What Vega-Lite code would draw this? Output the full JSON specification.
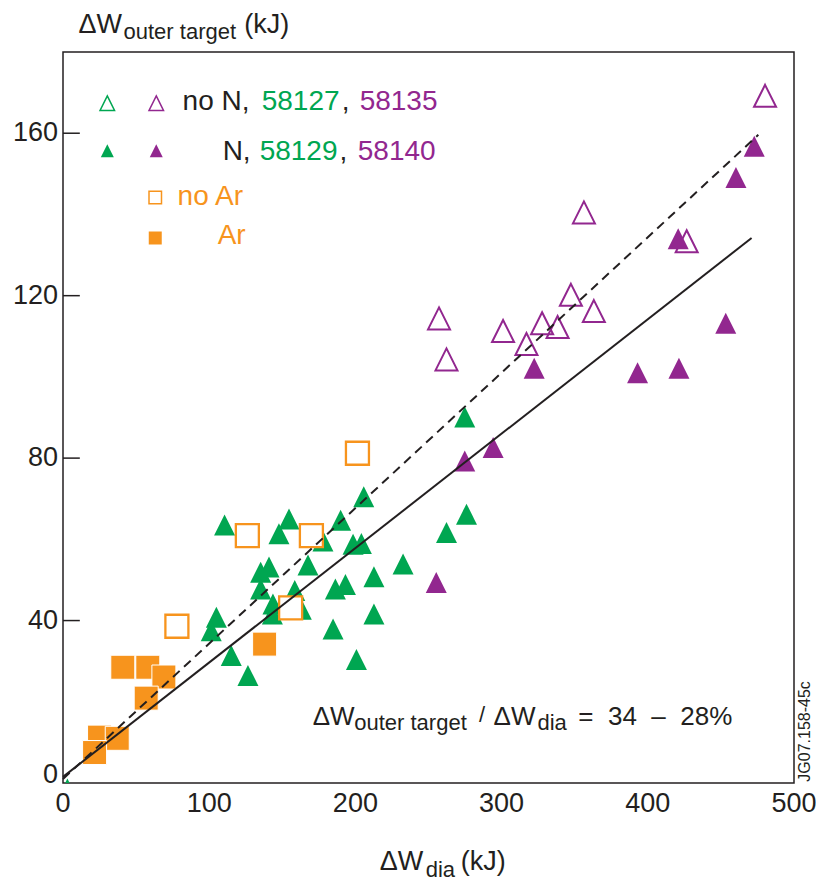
{
"$schema":"https://vega.github.io/schema/vega-lite/v6.json",
"width":731,"height":731,
"autosize":{"type":"none"},
"padding":{"left":63,"top":52,"right":22,"bottom":98},
"background":"white",
"config":{"view":{"stroke":"#231F20","strokeWidth":1.5},"font":"Liberation Sans"},
"datasets":{
"pts":[
{"s":"gN","x":205.7,"y":70.5},{"s":"gN","x":110.5,"y":63.5},{"s":"gN","x":154.6,"y":65.0},{"s":"gN","x":147.7,"y":61.4},{"s":"gN","x":189.9,"y":64.7},{"s":"gN","x":177.8,"y":59.6},{"s":"gN","x":198.4,"y":58.8},{"s":"gN","x":204.1,"y":59.0},{"s":"gN","x":167.6,"y":53.7},{"s":"gN","x":232.6,"y":53.9},{"s":"gN","x":135.2,"y":51.9},{"s":"gN","x":140.9,"y":53.2},{"s":"gN","x":212.7,"y":50.8},{"s":"gN","x":135.2,"y":47.8},{"s":"gN","x":186.3,"y":47.8},{"s":"gN","x":193.2,"y":48.9},{"s":"gN","x":158.5,"y":47.4},{"s":"gN","x":143.6,"y":44.1},{"s":"gN","x":143.2,"y":41.6},{"s":"gN","x":163.0,"y":42.8},{"s":"gN","x":212.7,"y":41.6},{"s":"gN","x":104.9,"y":40.8},{"s":"gN","x":101.4,"y":37.5},{"s":"gN","x":184.7,"y":37.9},{"s":"gN","x":115.1,"y":31.4},{"s":"gN","x":200.7,"y":30.4},{"s":"gN","x":126.5,"y":26.5},{"s":"gN","x":274.8,"y":90.1},{"s":"gN","x":276.0,"y":66.2},{"s":"gN","x":262.3,"y":61.7},{"s":"gN","x":3,"y":-1.5},
{"s":"pO","x":480.2,"y":169.2},{"s":"pO","x":356.3,"y":140.5},{"s":"pO","x":426.6,"y":133.4},{"s":"pO","x":347.4,"y":120.2},{"s":"pO","x":363.1,"y":116.2},{"s":"pO","x":257.2,"y":114.4},{"s":"pO","x":301.0,"y":111.3},{"s":"pO","x":327.7,"y":113.2},{"s":"pO","x":338.3,"y":112.3},{"s":"pO","x":317.0,"y":108.1},{"s":"pO","x":262.3,"y":104.3},
{"s":"pN","x":472.8,"y":156.8},{"s":"pN","x":460.3,"y":149.1},{"s":"pN","x":420.8,"y":134.0},{"s":"pN","x":453.3,"y":113.2},{"s":"pN","x":322.3,"y":102.1},{"s":"pN","x":393.0,"y":101.0},{"s":"pN","x":421.3,"y":102.1},{"s":"pN","x":294.2,"y":82.6},{"s":"pN","x":274.8,"y":79.3},{"s":"pN","x":255.3,"y":49.4},
{"s":"oO","x":77.9,"y":38.6},{"s":"oO","x":126.1,"y":60.9},{"s":"oO","x":169.9,"y":60.9},{"s":"oO","x":155.7,"y":43.1},{"s":"oO","x":201.4,"y":81.2},
{"s":"oA","x":40.9,"y":28.5},{"s":"oA","x":58.0,"y":28.5},{"s":"oA","x":69.0,"y":26.1},{"s":"oA","x":56.9,"y":20.9},{"s":"oA","x":25.0,"y":11.3},{"s":"oA","x":37.1,"y":11.0},{"s":"oA","x":21.6,"y":7.5},{"s":"oA","x":137.9,"y":34.2}
],
"lines":[
{"l":"dashed","x":0,"y":1},{"l":"dashed","x":475.6,"y":159.6},
{"l":"solid","x":0,"y":1.5},{"l":"solid","x":471,"y":134.2}
],
"ticks":[{"t":40},{"t":80},{"t":120},{"t":160}],
"xt":[{"v":0},{"v":100},{"v":200},{"v":300},{"v":400},{"v":500}],
"yt":[{"v":40},{"v":80},{"v":120},{"v":160}],
"y0":[{"v":0}],
"one":[{}]
},
"layer":[
{"data":{"name":"pts"},"transform":[{"filter":"datum.s==='gN'"}],
 "mark":{"type":"point","shape":"M0,-1L1,1L-1,1Z","filled":true,"fill":"#00A651","size":441,"opacity":1,"strokeWidth":0,"clip":true},
 "encoding":{"x":{"field":"x","type":"quantitative","scale":{"domain":[0,500],"nice":false},"axis":null},"y":{"field":"y","type":"quantitative","scale":{"domain":[0,180],"nice":false},"axis":null}}},
{"data":{"name":"ticks"},"mark":{"type":"rule","color":"#231F20","strokeWidth":1.5},
 "encoding":{"x":{"datum":0,"type":"quantitative","scale":{"domain":[0,500],"nice":false},"axis":null},"x2":{"datum":11.5},
 "y":{"field":"t","type":"quantitative","scale":{"domain":[0,180],"nice":false},"axis":null}}},
{"data":{"name":"xt"},"mark":{"type":"text","align":"center","baseline":"alphabetic","dy":29,"fontSize":27,"fill":"#231F20"},
 "encoding":{"x":{"field":"v","type":"quantitative","scale":{"domain":[0,500],"nice":false},"axis":null},"y":{"datum":0,"type":"quantitative","scale":{"domain":[0,180],"nice":false},"axis":null},"text":{"field":"v","type":"quantitative","format":"d"}}},
{"data":{"name":"yt"},"mark":{"type":"text","align":"right","baseline":"middle","dx":-5,"fontSize":27,"fill":"#231F20"},
 "encoding":{"x":{"datum":0,"type":"quantitative","scale":{"domain":[0,500],"nice":false},"axis":null},"y":{"field":"v","type":"quantitative","scale":{"domain":[0,180],"nice":false},"axis":null},"text":{"field":"v","type":"quantitative","format":"d"}}},
{"data":{"name":"y0"},"mark":{"type":"text","align":"right","baseline":"alphabetic","dx":-5,"fontSize":27,"fill":"#231F20"},
 "encoding":{"x":{"datum":0,"type":"quantitative","scale":{"domain":[0,500],"nice":false},"axis":null},"y":{"field":"v","type":"quantitative","scale":{"domain":[0,180],"nice":false},"axis":null},"text":{"field":"v","type":"quantitative","format":"d"}}},
{"data":{"name":"pts"},"transform":[{"filter":"datum.s==='pO'"}],
 "mark":{"type":"point","shape":"M0,-1L1,1L-1,1Z","filled":false,"stroke":"#92278F","strokeWidth":2,"size":484,"opacity":1,"clip":true},
 "encoding":{"x":{"field":"x","type":"quantitative","scale":{"domain":[0,500],"nice":false},"axis":null},"y":{"field":"y","type":"quantitative","scale":{"domain":[0,180],"nice":false},"axis":null}}},
{"data":{"name":"pts"},"transform":[{"filter":"datum.s==='pN'"}],
 "mark":{"type":"point","shape":"M0,-1L1,1L-1,1Z","filled":true,"fill":"#92278F","size":441,"opacity":1,"strokeWidth":0,"clip":true},
 "encoding":{"x":{"field":"x","type":"quantitative","scale":{"domain":[0,500],"nice":false},"axis":null},"y":{"field":"y","type":"quantitative","scale":{"domain":[0,180],"nice":false},"axis":null}}},
{"data":{"name":"pts"},"transform":[{"filter":"datum.s==='oO'"}],
 "mark":{"type":"point","shape":"square","fill":"white","stroke":"#F7941D","strokeWidth":2.3,"size":529,"opacity":1,"fillOpacity":1,"clip":true},
 "encoding":{"x":{"field":"x","type":"quantitative","scale":{"domain":[0,500],"nice":false},"axis":null},"y":{"field":"y","type":"quantitative","scale":{"domain":[0,180],"nice":false},"axis":null}}},
{"data":{"name":"pts"},"transform":[{"filter":"datum.s==='oA'"}],
 "mark":{"type":"point","shape":"square","filled":true,"fill":"#F7941D","stroke":"white","strokeWidth":1,"size":576,"opacity":1,"clip":true},
 "encoding":{"x":{"field":"x","type":"quantitative","scale":{"domain":[0,500],"nice":false},"axis":null},"y":{"field":"y","type":"quantitative","scale":{"domain":[0,180],"nice":false},"axis":null}}},
{"data":{"name":"lines"},"transform":[{"filter":"datum.l==='dashed'"}],
 "mark":{"type":"line","color":"#231F20","strokeWidth":2,"strokeDash":[9,6]},
 "encoding":{"x":{"field":"x","type":"quantitative","scale":{"domain":[0,500],"nice":false},"axis":null},"y":{"field":"y","type":"quantitative","scale":{"domain":[0,180],"nice":false},"axis":null}}},
{"data":{"name":"lines"},"transform":[{"filter":"datum.l==='solid'"}],
 "mark":{"type":"line","color":"#231F20","strokeWidth":2},
 "encoding":{"x":{"field":"x","type":"quantitative","scale":{"domain":[0,500],"nice":false},"axis":null},"y":{"field":"y","type":"quantitative","scale":{"domain":[0,180],"nice":false},"axis":null}}},

{"data":{"name":"one"},"mark":{"type":"point","shape":"M0,-1L1,1L-1,1Z","filled":false,"stroke":"#00A651","strokeWidth":1.5,"size":210,"opacity":1},
 "encoding":{"x":{"datum":30.3,"type":"quantitative","scale":{"domain":[0,500],"nice":false},"axis":null},"y":{"datum":167.4,"type":"quantitative","scale":{"domain":[0,180],"nice":false},"axis":null}}},
{"data":{"name":"one"},"mark":{"type":"point","shape":"M0,-1L1,1L-1,1Z","filled":false,"stroke":"#92278F","strokeWidth":1.5,"size":210,"opacity":1},
 "encoding":{"x":{"datum":63.8,"type":"quantitative","scale":{"domain":[0,500],"nice":false},"axis":null},"y":{"datum":167.4,"type":"quantitative","scale":{"domain":[0,180],"nice":false},"axis":null}}},
{"data":{"name":"one"},"mark":{"type":"point","shape":"M0,-1L1,1L-1,1Z","filled":true,"fill":"#00A651","strokeWidth":0,"size":169,"opacity":1},
 "encoding":{"x":{"datum":30.3,"type":"quantitative","scale":{"domain":[0,500],"nice":false},"axis":null},"y":{"datum":155.7,"type":"quantitative","scale":{"domain":[0,180],"nice":false},"axis":null}}},
{"data":{"name":"one"},"mark":{"type":"point","shape":"M0,-1L1,1L-1,1Z","filled":true,"fill":"#92278F","strokeWidth":0,"size":169,"opacity":1},
 "encoding":{"x":{"datum":63.8,"type":"quantitative","scale":{"domain":[0,500],"nice":false},"axis":null},"y":{"datum":155.7,"type":"quantitative","scale":{"domain":[0,180],"nice":false},"axis":null}}},
{"data":{"name":"one"},"mark":{"type":"point","shape":"square","fill":"white","stroke":"#F7941D","strokeWidth":1.5,"size":156,"opacity":1},
 "encoding":{"x":{"datum":63.1,"type":"quantitative","scale":{"domain":[0,500],"nice":false},"axis":null},"y":{"datum":144.2,"type":"quantitative","scale":{"domain":[0,180],"nice":false},"axis":null}}},
{"data":{"name":"one"},"mark":{"type":"point","shape":"square","filled":true,"fill":"#F7941D","strokeWidth":0,"size":169,"opacity":1},
 "encoding":{"x":{"datum":63.1,"type":"quantitative","scale":{"domain":[0,500],"nice":false},"axis":null},"y":{"datum":134.2,"type":"quantitative","scale":{"domain":[0,180],"nice":false},"axis":null}}},

{"data":{"name":"one"},"mark":{"type":"text","align":"left","baseline":"alphabetic","fontSize":28,"fill":"#231F20","text":"no N,"},
 "encoding":{"x":{"datum":81.8,"type":"quantitative","scale":{"domain":[0,500],"nice":false},"axis":null},"y":{"datum":165.6,"type":"quantitative","scale":{"domain":[0,180],"nice":false},"axis":null}}},
{"data":{"name":"one"},"mark":{"type":"text","align":"left","baseline":"alphabetic","fontSize":28,"fill":"#00A651","text":"58127"},
 "encoding":{"x":{"datum":135.9,"type":"quantitative","scale":{"domain":[0,500],"nice":false},"axis":null},"y":{"datum":165.6,"type":"quantitative","scale":{"domain":[0,180],"nice":false},"axis":null}}},
{"data":{"name":"one"},"mark":{"type":"text","align":"left","baseline":"alphabetic","fontSize":28,"fill":"#231F20","text":","},
 "encoding":{"x":{"datum":190.6,"type":"quantitative","scale":{"domain":[0,500],"nice":false},"axis":null},"y":{"datum":165.6,"type":"quantitative","scale":{"domain":[0,180],"nice":false},"axis":null}}},
{"data":{"name":"one"},"mark":{"type":"text","align":"left","baseline":"alphabetic","fontSize":28,"fill":"#92278F","text":"58135"},
 "encoding":{"x":{"datum":202.9,"type":"quantitative","scale":{"domain":[0,500],"nice":false},"axis":null},"y":{"datum":165.6,"type":"quantitative","scale":{"domain":[0,180],"nice":false},"axis":null}}},
{"data":{"name":"one"},"mark":{"type":"text","align":"left","baseline":"alphabetic","fontSize":28,"fill":"#231F20","text":"N,"},
 "encoding":{"x":{"datum":109.2,"type":"quantitative","scale":{"domain":[0,500],"nice":false},"axis":null},"y":{"datum":153.3,"type":"quantitative","scale":{"domain":[0,180],"nice":false},"axis":null}}},
{"data":{"name":"one"},"mark":{"type":"text","align":"left","baseline":"alphabetic","fontSize":28,"fill":"#00A651","text":"58129"},
 "encoding":{"x":{"datum":134.5,"type":"quantitative","scale":{"domain":[0,500],"nice":false},"axis":null},"y":{"datum":153.3,"type":"quantitative","scale":{"domain":[0,180],"nice":false},"axis":null}}},
{"data":{"name":"one"},"mark":{"type":"text","align":"left","baseline":"alphabetic","fontSize":28,"fill":"#231F20","text":","},
 "encoding":{"x":{"datum":189.2,"type":"quantitative","scale":{"domain":[0,500],"nice":false},"axis":null},"y":{"datum":153.3,"type":"quantitative","scale":{"domain":[0,180],"nice":false},"axis":null}}},
{"data":{"name":"one"},"mark":{"type":"text","align":"left","baseline":"alphabetic","fontSize":28,"fill":"#92278F","text":"58140"},
 "encoding":{"x":{"datum":201.6,"type":"quantitative","scale":{"domain":[0,500],"nice":false},"axis":null},"y":{"datum":153.3,"type":"quantitative","scale":{"domain":[0,180],"nice":false},"axis":null}}},
{"data":{"name":"one"},"mark":{"type":"text","align":"left","baseline":"alphabetic","fontSize":28,"fill":"#F7941D","text":"no Ar"},
 "encoding":{"x":{"datum":78.4,"type":"quantitative","scale":{"domain":[0,500],"nice":false},"axis":null},"y":{"datum":142.4,"type":"quantitative","scale":{"domain":[0,180],"nice":false},"axis":null}}},
{"data":{"name":"one"},"mark":{"type":"text","align":"left","baseline":"alphabetic","fontSize":28,"fill":"#F7941D","text":"Ar"},
 "encoding":{"x":{"datum":105.8,"type":"quantitative","scale":{"domain":[0,500],"nice":false},"axis":null},"y":{"datum":132.6,"type":"quantitative","scale":{"domain":[0,180],"nice":false},"axis":null}}},

{"data":{"name":"one"},"mark":{"type":"text","align":"left","baseline":"alphabetic","fontSize":26,"fill":"#231F20","text":"ΔW"},
 "encoding":{"x":{"datum":170.8,"type":"quantitative","scale":{"domain":[0,500],"nice":false},"axis":null},"y":{"datum":14.18,"type":"quantitative","scale":{"domain":[0,180],"nice":false},"axis":null}}},
{"data":{"name":"one"},"mark":{"type":"text","align":"left","baseline":"alphabetic","fontSize":22,"fill":"#231F20","text":"outer target"},
 "encoding":{"x":{"datum":199.2,"type":"quantitative","scale":{"domain":[0,500],"nice":false},"axis":null},"y":{"datum":12.95,"type":"quantitative","scale":{"domain":[0,180],"nice":false},"axis":null}}},
{"data":{"name":"one"},"mark":{"type":"text","align":"left","baseline":"alphabetic","fontSize":22,"fill":"#231F20","text":"/"},
 "encoding":{"x":{"datum":284.5,"type":"quantitative","scale":{"domain":[0,500],"nice":false},"axis":null},"y":{"datum":14.9,"type":"quantitative","scale":{"domain":[0,180],"nice":false},"axis":null}}},
{"data":{"name":"one"},"mark":{"type":"text","align":"left","baseline":"alphabetic","fontSize":26,"fill":"#231F20","text":"ΔW"},
 "encoding":{"x":{"datum":294.5,"type":"quantitative","scale":{"domain":[0,500],"nice":false},"axis":null},"y":{"datum":14.18,"type":"quantitative","scale":{"domain":[0,180],"nice":false},"axis":null}}},
{"data":{"name":"one"},"mark":{"type":"text","align":"left","baseline":"alphabetic","fontSize":22,"fill":"#231F20","text":"dia"},
 "encoding":{"x":{"datum":324.5,"type":"quantitative","scale":{"domain":[0,500],"nice":false},"axis":null},"y":{"datum":12.95,"type":"quantitative","scale":{"domain":[0,180],"nice":false},"axis":null}}},
{"data":{"name":"one"},"mark":{"type":"text","align":"left","baseline":"alphabetic","fontSize":26,"fill":"#231F20","text":"=\u00a0 34\u00a0 –\u00a0 28%"},
 "encoding":{"x":{"datum":352.5,"type":"quantitative","scale":{"domain":[0,500],"nice":false},"axis":null},"y":{"datum":14.18,"type":"quantitative","scale":{"domain":[0,180],"nice":false},"axis":null}}},

{"data":{"name":"one"},"mark":{"type":"text","align":"left","baseline":"alphabetic","fontSize":27,"fill":"#231F20","text":"ΔW"},
 "encoding":{"x":{"datum":10.6,"type":"quantitative","scale":{"domain":[0,500],"nice":false},"axis":null},"y":{"datum":184.6,"type":"quantitative","scale":{"domain":[0,180],"nice":false},"axis":null}}},
{"data":{"name":"one"},"mark":{"type":"text","align":"left","baseline":"alphabetic","fontSize":22,"fill":"#231F20","text":"outer target"},
 "encoding":{"x":{"datum":41.4,"type":"quantitative","scale":{"domain":[0,500],"nice":false},"axis":null},"y":{"datum":183.3,"type":"quantitative","scale":{"domain":[0,180],"nice":false},"axis":null}}},
{"data":{"name":"one"},"mark":{"type":"text","align":"left","baseline":"alphabetic","fontSize":27,"fill":"#231F20","text":"(kJ)"},
 "encoding":{"x":{"datum":124.0,"type":"quantitative","scale":{"domain":[0,500],"nice":false},"axis":null},"y":{"datum":184.6,"type":"quantitative","scale":{"domain":[0,180],"nice":false},"axis":null}}},
{"data":{"name":"one"},"mark":{"type":"text","align":"left","baseline":"alphabetic","fontSize":27,"fill":"#231F20","text":"ΔW"},
 "encoding":{"x":{"datum":216.6,"type":"quantitative","scale":{"domain":[0,500],"nice":false},"axis":null},"y":{"datum":-21.45,"type":"quantitative","scale":{"domain":[0,180],"nice":false},"axis":null}}},
{"data":{"name":"one"},"mark":{"type":"text","align":"left","baseline":"alphabetic","fontSize":22,"fill":"#231F20","text":"dia"},
 "encoding":{"x":{"datum":248.1,"type":"quantitative","scale":{"domain":[0,500],"nice":false},"axis":null},"y":{"datum":-23.1,"type":"quantitative","scale":{"domain":[0,180],"nice":false},"axis":null}}},
{"data":{"name":"one"},"mark":{"type":"text","align":"left","baseline":"alphabetic","fontSize":27,"fill":"#231F20","text":"(kJ)"},
 "encoding":{"x":{"datum":272.1,"type":"quantitative","scale":{"domain":[0,500],"nice":false},"axis":null},"y":{"datum":-21.45,"type":"quantitative","scale":{"domain":[0,180],"nice":false},"axis":null}}},
{"data":{"name":"one"},"mark":{"type":"text","align":"center","baseline":"middle","angle":270,"fontSize":16,"fill":"#231F20","text":"JG07.158-45c"},
 "encoding":{"x":{"datum":507.5,"type":"quantitative","scale":{"domain":[0,500],"nice":false},"axis":null},"y":{"datum":12.7,"type":"quantitative","scale":{"domain":[0,180],"nice":false},"axis":null}}}
]
}
